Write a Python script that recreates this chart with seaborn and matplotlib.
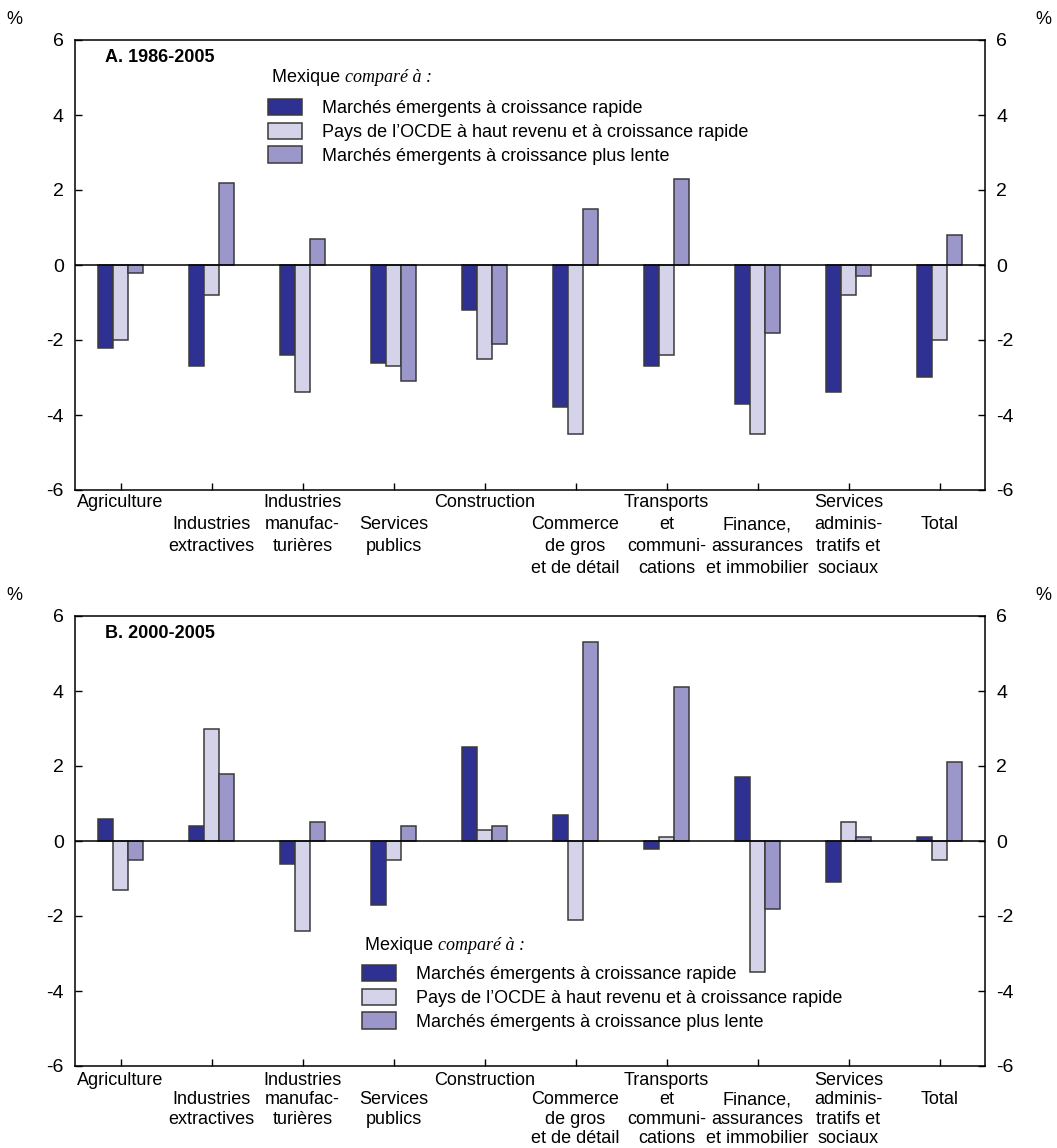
import matplotlib
matplotlib.use("Agg")
import matplotlib.pyplot as plt
from matplotlib.patches import Patch
import seaborn as sns
import pandas as pd

# ---- data ----
categories = ["Agriculture", "Industries extractives", "Industries manufacturières",
              "Services publics", "Construction", "Commerce de gros et de détail",
              "Transports et communications", "Finance, assurances et immobilier",
              "Services administratifs et sociaux", "Total"]
tick_labels = ["Agriculture", "Industries\nextractives", "Industries\nmanufac-\nturières",
               "Services\npublics", "Construction", "Commerce\nde gros\net de détail",
               "Transports\net\ncommuni-\ncations", "Finance,\nassurances\net immobilier",
               "Services\nadminis-\ntratifs et\nsociaux", "Total"]
series = ["Marchés émergents à croissance rapide",
          "Pays de l’OCDE à haut revenu et à croissance rapide",
          "Marchés émergents à croissance plus lente"]

a_fast = [-2.2, -2.7, -2.4, -2.6, -1.2, -3.8, -2.7, -3.7, -3.4, -3.0]
a_ocde = [-2.0, -0.8, -3.4, -2.7, -2.5, -4.5, -2.4, -4.5, -0.8, -2.0]
a_slow = [-0.2, 2.2, 0.7, -3.1, -2.1, 1.5, 2.3, -1.8, -0.3, 0.8]

b_fast = [0.6, 0.4, -0.6, -1.7, 2.5, 0.7, -0.2, 1.7, -1.1, 0.1]
b_ocde = [-1.3, 3.0, -2.4, -0.5, 0.3, -2.1, 0.1, -3.5, 0.5, -0.5]
b_slow = [-0.5, 1.8, 0.5, 0.4, 0.4, 5.3, 4.1, -1.8, 0.1, 2.1]

panel_titles = ["A. 1986-2005", "B. 2000-2005"]
y_ticks = [-6, -4, -2, 0, 2, 4, 6]

colors = ["#2E3192", "#D4D3E9", "#9C97CA"]
edge = "#3a3a3a"

sns.set_theme(style="ticks")
plt.rcParams["font.family"] = ["Liberation Sans", "DejaVu Sans"]
plt.rcParams["axes.edgecolor"] = "black"
plt.rcParams["axes.linewidth"] = 1.1
plt.rcParams["text.color"] = "black"
plt.rcParams["xtick.color"] = "black"
plt.rcParams["ytick.color"] = "black"
plt.rcParams["xtick.labelcolor"] = "black"
plt.rcParams["ytick.labelcolor"] = "black"
plt.rcParams["legend.labelcolor"] = "black"

FS = 13

def make_df(fast, ocde, slow):
    rows = []
    for s, vals in zip(series, [fast, ocde, slow]):
        for c, v in zip(categories, vals):
            rows.append({"cat": c, "val": v, "series": s})
    return pd.DataFrame(rows)

fig = plt.figure(figsize=(10.57, 11.48), dpi=100)
W, H = 1057, 1148
left, right = 75, 985
panels = [(40, 490), (616, 1066)]
data = [make_df(a_fast, a_ocde, a_slow), make_df(b_fast, b_ocde, b_slow)]
# legend positions (px): title left, title center y, handle left, first row top
leg_pos = [(272, 77, 268, 99), (365, 946, 362, 965)]
label_spacing = [1.38, 1.2]
label_pad = [3, 4]

for i, ((top, bot), df) in enumerate(zip(panels, data)):
    ax = fig.add_axes([left / W, 1 - bot / H, (right - left) / W, (bot - top) / H])
    sns.barplot(data=df, x="cat", y="val", hue="series", order=categories,
                hue_order=series, palette=colors, width=0.5, saturation=1,
                edgecolor=edge, linewidth=1.1, legend=False, ax=ax)
    ax.axhline(0, color="black", lw=1.1, zorder=3)
    ax.set_xlim(-0.5, len(categories) - 0.5)
    ax.set_ylim(-6, 6)
    ax.set_yticks(y_ticks)
    ax.set_yticklabels([str(t) for t in y_ticks])
    ax.set_xticks(range(len(categories)))
    labs = [("\n" + t) if j % 2 == 1 else t for j, t in enumerate(tick_labels)]
    ax.set_xticklabels(labs, fontsize=FS, linespacing=label_spacing[i], va="top",
                       color="black")
    ax.set_xlabel("")
    ax.set_ylabel("")
    ax.tick_params(axis="y", direction="in", left=True, right=True,
                   labelleft=True, labelright=True, labelsize=FS + 1, length=5,
                   width=1, pad=8, colors="black")
    ax.tick_params(axis="x", direction="in", bottom=True, top=False, length=5,
                   width=1, pad=label_pad[i], colors="black")
    for sp in ax.spines.values():
        sp.set_visible(True)
        sp.set_color("black")
    ax.grid(False)

    ax.text(30 / 910, 1 - 18 / 450, panel_titles[i], transform=ax.transAxes,
            fontsize=FS, fontweight="bold", va="center", ha="left", color="black")

    # percent labels
    fig.text(14 / W, 1 - (top - 20) / H, "%", fontsize=FS, ha="center", va="center")
    fig.text(1043 / W, 1 - (top - 20) / H, "%", fontsize=FS, ha="center", va="center")

    tx, ty, hx, hy = leg_pos[i]
    t1 = ax.text((tx - left) / 910, 1 - (ty - top) / 450, "Mexique ",
                 transform=ax.transAxes, fontsize=FS, ha="left", va="center",
                 color="black")
    ax.annotate("comparé à :", xy=(1, 0), xycoords=t1, ha="left", va="bottom",
                fontsize=FS, fontstyle="italic", color="black",
                family=["Liberation Serif", "DejaVu Serif"])

    handles = [Patch(facecolor=c, edgecolor=edge, linewidth=1.1) for c in colors]
    ax.legend(handles, series, loc="upper left",
              bbox_to_anchor=((hx - left) / 910, 1 - (hy - top) / 450),
              frameon=False, fontsize=FS, handlelength=1.9, handleheight=1.0,
              handletextpad=1.1, labelspacing=0.3, borderpad=0, borderaxespad=0,
              labelcolor="black")

fig.savefig("out.png", dpi=100)
